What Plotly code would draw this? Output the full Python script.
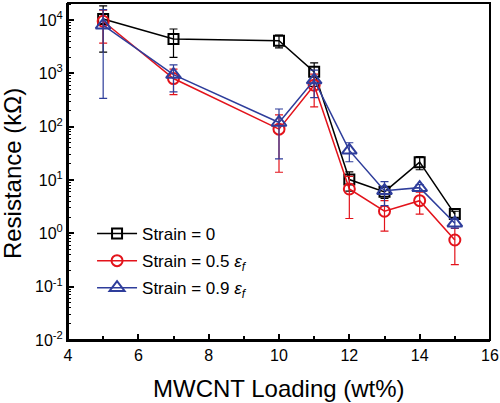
import plotly.graph_objects as go

loading = [5, 7, 10, 11, 12, 13, 14, 15]

r_strain0 = [10500, 4400, 4100, 1070, 10.2, 6.0, 21.6, 2.3]
e_strain0 = [8000, 2400, 1100, 500, 4.0, 1.5, 6.0, 0.3]

r_strain05 = [9500, 800, 90, 600, 6.8, 2.6, 4.1, 0.75]
e_strain05 = [5800, 400, 76, 365, 4.9, 1.5, 1.8, 0.49]

r_strain09 = [8000, 950, 120, 750, 36, 6.3, 7.2, 1.55]
e_strain09 = [7660, 500, 95, 400, 14, 3.0, 1.0, 0.3]

series = [
    ("Strain = 0", r_strain0, e_strain0, "black", "square-open", 10),
    ("Strain = 0.5 <i>ε<sub>f</sub></i>", r_strain05, e_strain05, "#e3131b", "circle-open", 11),
    ("Strain = 0.9 <i>ε<sub>f</sub></i>", r_strain09, e_strain09, "#2e3d9b", "triangle-up-open", 13),
]

fig = go.Figure()
for i, (name, ys, es, col, sym, sz) in enumerate(series):
    fig.add_trace(go.Scatter(
        x=loading, y=ys, name=name, mode="lines+markers", legendgroup=f"g{i}",
        line=dict(color=col, width=1.5),
        marker=dict(symbol=sym, size=sz, color=col, line=dict(color=col, width=2)),
        error_y=dict(type="data", array=es, visible=True, color=col, thickness=1.2, width=4),
    ))

ytick_vals = [1e-2, 1e-1, 1, 10, 100, 1000, 10000]
ytick_text = ["10<sup>-2</sup>", "10<sup>-1</sup>", "10<sup>0</sup>", "10<sup>1</sup>",
              "10<sup>2</sup>", "10<sup>3</sup>", "10<sup>4</sup>"]
minor_vals = [k * 10 ** n for n in range(-2, 5) for k in range(2, 10)]

fig.update_layout(
    width=500, height=403,
    margin=dict(l=68, r=10, t=3, b=63),
    paper_bgcolor="white", plot_bgcolor="white",
    font=dict(family="Liberation Sans, Arial, sans-serif", color="black", size=16),
    showlegend=True,
    legend=dict(x=0.057, y=0.368, xanchor="left", yanchor="top",
                bgcolor="rgba(0,0,0,0)", font=dict(size=17), itemwidth=40,
                traceorder="grouped", tracegroupgap=2),
    xaxis=dict(range=[4, 16], tickvals=[4, 6, 8, 10, 12, 14, 16],
               ticks="inside", ticklen=6, tickwidth=1.5, tickcolor="black",
               minor=dict(tickvals=[5, 7, 9, 11, 13, 15], ticks="inside", ticklen=4,
                          tickwidth=1.5, tickcolor="black", showgrid=False),
               showline=True, linecolor="black", linewidth=2, mirror=False,
               showgrid=False, zeroline=False, automargin=False,
               tickfont=dict(size=16)),
    yaxis=dict(type="log", range=[-2, 4.32], tickvals=ytick_vals, ticktext=ytick_text,
               ticks="inside", ticklen=6, tickwidth=1.5, tickcolor="black",
               minor=dict(tickvals=minor_vals, ticks="inside", ticklen=3,
                          tickwidth=1, tickcolor="black", showgrid=False),
               showline=True, linecolor="black", linewidth=2, mirror=False,
               showgrid=False, zeroline=False, automargin=False,
               tickfont=dict(size=16)),
    shapes=[dict(type="rect", xref="paper", yref="paper", x0=0, y0=0, x1=1, y1=1,
                 line=dict(color="black", width=2), fillcolor="rgba(0,0,0,0)")],
    annotations=[
        dict(text="MWCNT Loading (wt%)", xref="paper", yref="paper", x=0.5, y=-0.145,
             xanchor="center", yanchor="middle", showarrow=False, font=dict(size=24)),
        dict(text="Resistance (kΩ)", xref="paper", yref="paper", x=-0.133, y=0.495,
             xanchor="center", yanchor="middle", showarrow=False, textangle=-90,
             font=dict(size=24)),
    ],
)

fig.write_html("out.html", config={"displayModeBar": False},
               post_script="document.body.style.margin='0';document.body.style.overflow='hidden';")
